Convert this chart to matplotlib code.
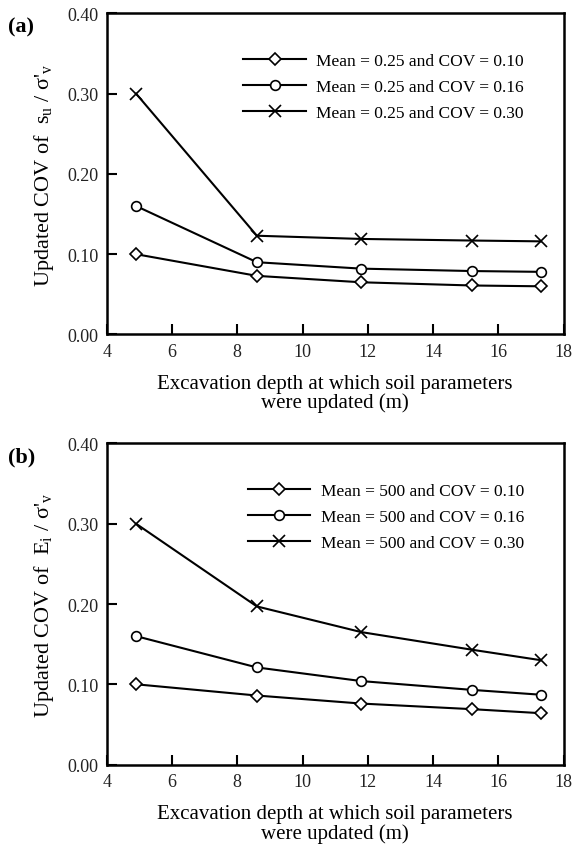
import matplotlib
matplotlib.use('Agg')
import matplotlib.pyplot as plt

plt.rcParams['font.family'] = ['Liberation Serif', 'DejaVu Serif']
plt.rcParams['mathtext.fontset'] = 'custom'
plt.rcParams['mathtext.rm'] = 'Liberation Serif'
plt.rcParams['mathtext.it'] = 'Liberation Serif:italic'

# excavation depth (m)
depth = [4.9, 8.6, 11.8, 15.2, 17.3]

# panel (a): su / sigma'v
a_cov10 = [0.100, 0.073, 0.065, 0.061, 0.060]
a_cov16 = [0.160, 0.090, 0.082, 0.079, 0.078]
a_cov30 = [0.300, 0.123, 0.119, 0.117, 0.116]
a_labels = ['Mean = 0.25 and COV = 0.10', 'Mean = 0.25 and COV = 0.16',
            'Mean = 0.25 and COV = 0.30']

# panel (b): Ei / sigma'v
b_cov10 = [0.100, 0.086, 0.076, 0.069, 0.064]
b_cov16 = [0.160, 0.121, 0.104, 0.093, 0.087]
b_cov30 = [0.300, 0.197, 0.165, 0.143, 0.130]
b_labels = ['Mean = 500 and COV = 0.10', 'Mean = 500 and COV = 0.16',
            'Mean = 500 and COV = 0.30']

xticks = [4, 6, 8, 10, 12, 14, 16, 18]
yticks = [0.0, 0.1, 0.2, 0.3, 0.4]

fig = plt.figure(figsize=(5.83, 8.45), dpi=100)
ax_a = fig.add_axes([0.183, 0.603, 0.784, 0.380])
ax_b = fig.add_axes([0.183, 0.094, 0.784, 0.380])


def draw(ax, series, labels, ylabel, tag):
    markers = ['D', 'o', 'x']
    sizes = [6, 7, 8]
    for ys, lab, m, s in zip(series, labels, markers, sizes):
        ax.plot(depth, ys, color='black', lw=1.5, marker=m, ms=s,
                mfc='white', mec='black', mew=1.2, label=lab)
    ax.set_xlim(4, 18)
    ax.set_ylim(0, 0.4)
    ax.set_xticks(xticks)
    ax.set_yticks(yticks)
    ax.set_yticklabels(['%.2f' % v for v in yticks])
    ax.tick_params(direction='in', length=7, width=1.5, labelsize=13,
                   top=False, right=False, pad=6, labelcolor='#222222')
    for sp in ax.spines.values():
        sp.set_linewidth(1.8)
    ax.set_ylabel(ylabel, fontsize=16, labelpad=8)
    ax.set_xlabel('Excavation depth at which soil parameters\nwere updated (m)',
                  fontsize=15, linespacing=1.0, labelpad=10)
    ax.legend(loc='upper right', bbox_to_anchor=(0.947, 0.925),
              frameon=False, fontsize=12.5, handlelength=3.6,
              handletextpad=0.6, labelspacing=0.55)
    ax.text(-0.215, 0.96, tag, transform=ax.transAxes, fontsize=16,
            fontweight='bold', ha='left', va='center')


draw(ax_a, [a_cov10, a_cov16, a_cov30], a_labels,
     r"Updated COV of  s$_\mathrm{u}$ / σ$'_\mathrm{v}$", '(a)')
draw(ax_b, [b_cov10, b_cov16, b_cov30], b_labels,
     r"Updated COV of  E$_\mathrm{i}$ / σ$'_\mathrm{v}$", '(b)')

fig.savefig('out.png', dpi=100)
